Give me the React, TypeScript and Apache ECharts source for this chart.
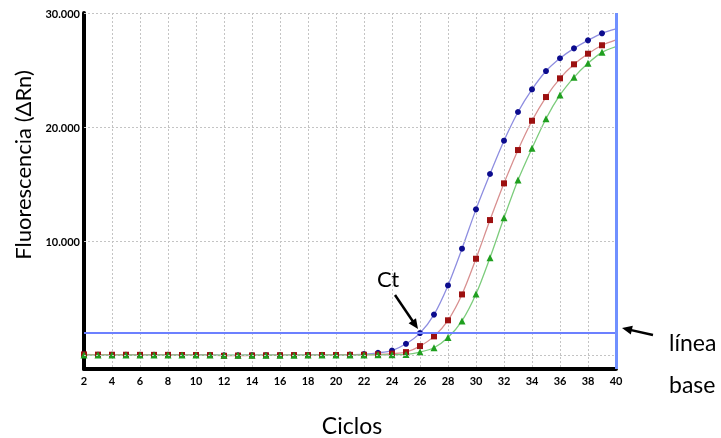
import React, { useEffect, useRef } from "react";
import * as echarts from "echarts";

const cycles = [2, 3, 4, 5, 6, 7, 8, 9, 10, 11, 12, 13, 14, 15, 16, 17, 18, 19, 20, 21, 22, 23, 24, 25, 26, 27, 28, 29, 30, 31, 32, 33, 34, 35, 36, 37, 38, 39, 40];

const blueValues = [40, 30, 30, 20, 20, 20, 20, 10, 10, 10, -20, -20, -10, -10, 0, 0, 10, 10, 20, 40,
  90, 200, 400, 990, 1930, 3550, 6110, 9330, 12780, 15880, 18800, 21320, 23300, 24910, 26030, 26900, 27600, 28220, 28600];
const redValues = [60, 40, 30, 30, 20, 20, 20, 10, 10, 0, -60, -40, -30, -20, -10, 0, 0, 10, 10, 20,
  30, 60, 130, 260, 790, 1640, 3050, 5320, 8450, 11840, 15060, 17980, 20550, 22630, 24270, 25500, 26430, 27170, 27650];
const greenValues = [0, 0, 0, 0, 0, 0, 0, 0, 0, 0, -10, -10, -10, -10, -10, -10, 0, 0, 0, 0,
  10, 20, 30, 60, 260, 640, 1540, 3000, 5350, 8540, 12040, 15350, 18130, 20730, 22810, 24360, 25590, 26550, 27050];

const yTickValues = [10000, 20000, 30000];
const yGridValues = [0, 10000, 20000, 30000];
const thresholdValue = 1950;
const lastCycle = 40;

const FONT = "Lato, 'Open Sans', sans-serif";

function buildData(values: number[]) {
  return cycles.map((c, i) =>
    c === lastCycle ? { value: [c, values[i]], symbol: "none" } : { value: [c, values[i]] }
  );
}

function fmt(v: number) {
  return String(v).replace(/\B(?=(\d{3})+(?!\d))/g, ".");
}

export default function App() {
  const ref = useRef<HTMLDivElement>(null);
  useEffect(() => {
    if (!ref.current) return;
    const chart = echarts.init(ref.current, undefined, { renderer: "svg" });
    const curve = (name: string, values: number[], lineColor: string, markColor: string, symbol: string, size: number) => ({
      name,
      type: "line",
      z: 3,
      data: buildData(values),
      symbol,
      symbolSize: size,
      showSymbol: true,
      smooth: 0.3,
      lineStyle: { color: lineColor, width: 1.3 },
      itemStyle: { color: markColor },
      emphasis: { disabled: true },
    });
    chart.setOption({
      animation: false,
      grid: { left: 84, right: 105, top: 13, bottom: 69, containLabel: false },
      xAxis: {
        type: "value",
        min: 2,
        max: 40,
        interval: 2,
        axisLine: { show: true, onZero: false, lineStyle: { color: "#000", width: 4 } },
        axisTick: { show: false },
        axisLabel: { color: "#000", fontWeight: "bold", fontSize: 11, fontFamily: FONT, margin: 6 },
        splitLine: { show: true, lineStyle: { color: "#c4c4c4", type: [2, 2], width: 1 } },
      },
      yAxis: {
        type: "value",
        min: -1220,
        max: 30000,
        axisLine: { show: true, onZero: false, lineStyle: { color: "#000", width: 4 } },
        axisTick: { show: false },
        axisLabel: {
          color: "#000",
          fontWeight: "bold",
          fontSize: 11,
          fontFamily: FONT,
          margin: 4,
          customValues: yTickValues,
          formatter: (v: number) => fmt(v),
        },
        splitLine: { show: false },
      },
      series: [
        {
          type: "line",
          z: 1,
          data: [],
          silent: true,
          markLine: {
            silent: true,
            symbol: "none",
            label: { show: false },
            lineStyle: { color: "#c4c4c4", type: [2, 2], width: 1 },
            data: yGridValues.map((v) => ({ yAxis: v })),
          },
        },
        {
          type: "line",
          z: 2,
          data: [],
          silent: true,
          markLine: {
            silent: true,
            symbol: "none",
            label: { show: false },
            lineStyle: { color: "#6c80ff", type: "solid", width: 2 },
            data: [{ yAxis: thresholdValue }],
          },
        },
        curve("A", blueValues, "#8e8ee0", "#0c0c8e", "circle", 6),
        curve("B", redValues, "#d89090", "#9c1010", "rect", 6),
        curve("C", greenValues, "#7ccc7c", "#1f9f1f", "triangle", 7),
        {
          type: "line",
          z: 5,
          data: [],
          silent: true,
          markLine: {
            silent: true,
            symbol: "none",
            label: { show: false },
            lineStyle: { color: "#7090ff", type: "solid", width: 3 },
            data: [{ xAxis: lastCycle }],
          },
        },
      ],
      graphic: [
        {
          type: "text",
          x: 22,
          y: 165,
          rotation: Math.PI / 2,
          style: { text: "Fluorescencia (ΔRn)", fontSize: 22, fontFamily: FONT, fill: "#000", align: "center", verticalAlign: "middle" },
        },
        {
          type: "text",
          x: 352,
          y: 425,
          style: { text: "Ciclos", fontSize: 23, fontFamily: FONT, fill: "#000", align: "center", verticalAlign: "middle" },
        },
        {
          type: "text",
          x: 388,
          y: 278,
          style: { text: "Ct", fontSize: 22, fontFamily: FONT, fill: "#000", align: "center", verticalAlign: "middle" },
        },
        {
          type: "text",
          x: 669,
          y: 342,
          style: { text: "línea", fontSize: 23, fontFamily: FONT, fill: "#000", align: "left", verticalAlign: "middle" },
        },
        {
          type: "text",
          x: 669,
          y: 384,
          style: { text: "base", fontSize: 23, fontFamily: FONT, fill: "#000", align: "left", verticalAlign: "middle" },
        },
        { type: "line", shape: { x1: 395, y1: 295, x2: 414, y2: 323 }, style: { stroke: "#000", lineWidth: 2.5 } },
        { type: "polygon", shape: { points: [[418, 329], [408.6, 323.2], [416, 318.2]] }, style: { fill: "#000" } },
        { type: "line", shape: { x1: 653, y1: 335, x2: 629, y2: 329.6 }, style: { stroke: "#000", lineWidth: 2.5 } },
        { type: "polygon", shape: { points: [[622, 328], [632.8, 325.8], [630.8, 334.6]] }, style: { fill: "#000" } },
      ],
    });
    return () => chart.dispose();
  }, []);
  return <div ref={ref} style={{ position: "fixed", left: 0, top: 0, width: 721, height: 438 }} />;
}
